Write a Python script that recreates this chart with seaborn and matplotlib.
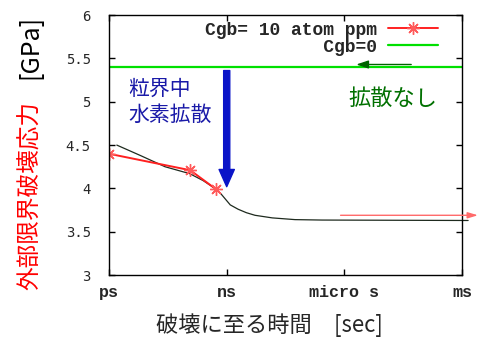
import pandas as pd
import seaborn as sns
import matplotlib.pyplot as plt
from matplotlib.lines import Line2D

# x = log10(time to fracture [s]), y = stress [GPa]
tick_pos = [-12, -9, -6, -3]
tick_names = ['ps', 'ns', 'micro s', 'ms']
y_ticks = [3, 3.5, 4, 4.5, 5, 5.5, 6]
y_names = ['3', '3.5', '4', '4.5', '5', '5.5', '6']

red_x = [-12.0, -9.93, -9.27]
red_y = [4.40, 4.21, 3.99]

curve_x = [-11.80, -11.20, -10.57, -9.94, -9.60, -9.30, -9.17, -9.04, -8.91,
           -8.71, -8.50, -8.28, -7.84, -7.26, -6.57, -2.85]
curve_y = [4.50, 4.38, 4.25, 4.17, 4.09, 4.00, 3.95, 3.88, 3.81,
           3.76, 3.72, 3.69, 3.66, 3.64, 3.635, 3.63]

cgb0_x = [-12, -3]
cgb0_y = [5.40, 5.40]

red_label = 'Cgb= 10 atom ppm'
green_label = 'Cgb=0'.rjust(len(red_label))

CJK = ['Noto Sans CJK JP', 'DejaVu Sans']
MONO = 'Liberation Mono'

sns.set_theme(style='ticks')
plt.rcParams['font.family'] = CJK

fig = plt.figure(figsize=(4.8, 3.43), dpi=100)
ax = fig.add_axes([0.227, 0.198, 0.736, 0.758])

green = '#00e000'
red = '#ff2020'

sns.lineplot(x=cgb0_x, y=cgb0_y, color=green, lw=1.6, ax=ax)
sns.lineplot(x=curve_x, y=curve_y, color='#1e2a1e', lw=0.9, sort=False, ax=ax,
             clip_on=False)
sns.lineplot(x=red_x, y=red_y, color=red, lw=1.4, marker=(8, 2, 0), ms=9,
             mec='#ff5a5a', mew=1.0, ax=ax)

# arrows and notes
ax.annotate('', xy=(-9.0, 4.02), xytext=(-9.0, 5.36),
            arrowprops=dict(arrowstyle='simple,head_width=0.55,head_length=0.62,tail_width=0.22',
                            color='#0a14c8', mutation_scale=20, shrinkA=0, shrinkB=0))
ax.annotate('', xy=(-5.7, 5.43), xytext=(-4.3, 5.43),
            arrowprops=dict(arrowstyle='-|>,head_width=0.2,head_length=0.6',
                            color='#006400', lw=1.0, mutation_scale=12, shrinkA=0, shrinkB=0))
ax.annotate('', xy=(-2.6, 3.69), xytext=(-6.1, 3.69), annotation_clip=False,
            arrowprops=dict(arrowstyle='-|>,head_width=0.15,head_length=0.5',
                            color='#ff6a6a', lw=1.0, mutation_scale=12, shrinkA=0, shrinkB=0))

ax.text(-11.5, 5.0, '粒界中\n水素拡散', color='#1a1aa8', fontsize=15,
        va='center', ha='left', linespacing=1.25)
ax.text(-4.77, 5.04, '拡散なし', color='#007000', fontsize=16, va='center', ha='center')

ax.set_xlim(-12, -3)
ax.set_ylim(3, 6)
ax.set_xticks(tick_pos)
ax.set_xticklabels(tick_names, family=MONO, fontsize=12, weight='bold')
ax.set_yticks(y_ticks)
ax.set_yticklabels(y_names, family='DejaVu Sans Mono', fontsize=10)
ax.tick_params(direction='in', length=4, width=1, top=True, right=True, color='black')
ax.tick_params(axis='x', pad=7)
ax.tick_params(axis='y', pad=13)
for s in ax.spines.values():
    s.set_color('black')
    s.set_linewidth(1.0)
ax.set_xlabel('')
ax.set_ylabel('')

handles = [Line2D([], [], color=red, lw=1.4, marker=(8, 2, 0), ms=9, mec='#ff5a5a', mew=1.0),
           Line2D([], [], color=green, lw=1.6)]
ax.legend(handles, [red_label, green_label], loc='upper right', bbox_to_anchor=(0.932, 0.975),
          frameon=False, markerfirst=False, numpoints=1, handlelength=2.8, handletextpad=0.6,
          borderpad=0, borderaxespad=0, labelspacing=0.0,
          prop={'family': MONO, 'size': 13, 'weight': 'bold'})

fig.text(0.561, 0.052, '破壊に至る時間\u3000[sec]', fontsize=16, ha='center', va='center')
fig.text(0.0625, 0.431, '外部限界破壊応力', color='red', fontsize=17, rotation=90,
         ha='center', va='center')
fig.text(0.0625, 0.863, '[GPa]', color='black', fontsize=18, rotation=90,
         ha='center', va='center')

fig.savefig('out.png', dpi=100)
